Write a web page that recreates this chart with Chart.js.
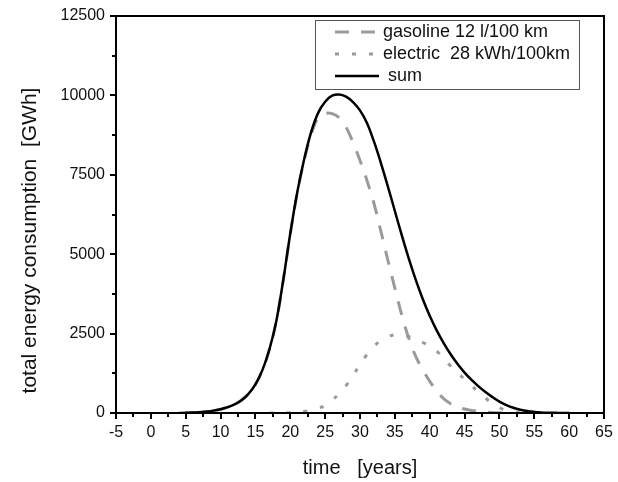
<!DOCTYPE html>
<html><head><meta charset="utf-8">
<script src="https://cdn.jsdelivr.net/npm/chart.js@4"></script>
<style>html,body{margin:0;padding:0;background:#fff}</style>
</head><body>
<canvas id="c" width="618" height="482"></canvas>
<script>
// time axis [years]
const sumYears = [4,5,6,7,8,9,10,11,12,13,14,15,16,17,18,19,20,21,22,23,24,25,26,27,28,29,30,31,32,33,34,35,36,37,38,39,40,41,42,43,44,45,46,47,48,49,50,51,52,53,54,55,56,57,58,59,60];
const sumValues = [0,5,12,25,45,75,120,180,270,400,600,900,1350,2000,2900,4200,5650,6950,8000,8850,9450,9800,9990,10030,9960,9790,9530,9130,8550,7870,7130,6360,5590,4860,4190,3590,3060,2600,2200,1850,1540,1270,1040,840,660,500,360,250,165,105,62,35,18,9,4,1,0];

const gasYears = [5,6,7,8,9,10,11,12,13,14,15,16,17,18,19,20,21,22,23,24,25,26,27,28,29,30,31,32,33,34,35,36,37,38,39,40,41,42,43,44,45,46,47,48,49,50,51];
const gasValues = [5,12,25,45,75,120,180,270,400,600,900,1350,2000,2898,4195,5640,6925,7950,8765,9300,9430,9425,9300,9000,8520,7950,7320,6600,5720,4810,3930,3080,2350,1780,1360,1000,690,450,290,190,125,80,50,30,15,5,0];

const elecYears = [17,18,19,20,21,22,23,24,25,26,27,28,29,30,31,32,33,34,35,36,37,38,39,40,41,42,43,44,45,46,47,48,49,50,51,52,53,54];
const elecValues = [0,2,5,10,25,50,85,150,240,400,610,860,1170,1540,1840,2100,2280,2400,2460,2460,2400,2320,2220,2110,1950,1720,1480,1270,1060,860,660,470,300,170,80,35,10,0];

const seriesNames = ['gasoline 12 l/100 km', 'electric  28 kWh/100km', ' sum'];
const xTitle = 'time   [years]';
const yTitle = 'total energy consumption  [GWh]';

const pts = (xs, ys) => xs.map((x, i) => ({x, y: ys[i]}));

const FONT = 'Arial, "Liberation Sans", sans-serif';

const frameAndMinor = {
  id: 'frameAndMinor',
  afterDraw(chart) {
    const {ctx, chartArea: a, scales: {x, y}} = chart;
    ctx.save();
    ctx.strokeStyle = '#000';
    ctx.lineWidth = 2;
    ctx.strokeRect(a.left, a.top, a.right - a.left, a.bottom - a.top);
    ctx.beginPath();
    for (let v = x.min + 2.5; v < x.max; v += 5) {
      const px = Math.round(x.getPixelForValue(v));
      ctx.moveTo(px, a.bottom); ctx.lineTo(px, a.bottom + 4);
    }
    for (let v = y.min + 1250; v < y.max; v += 2500) {
      const py = Math.round(y.getPixelForValue(v));
      ctx.moveTo(a.left, py); ctx.lineTo(a.left - 4, py);
    }
    ctx.stroke();
    // y axis title
    ctx.fillStyle = '#111';
    ctx.font = '21px ' + FONT;
    ctx.textAlign = 'center';
    ctx.textBaseline = 'middle';
    ctx.translate(30, (a.top + a.bottom) / 2 + 26);
    ctx.rotate(-Math.PI / 2);
    ctx.fillText(yTitle, 0, 0);
    ctx.restore();
  }
};

const boxLegend = {
  id: 'boxLegend',
  afterDraw(chart) {
    const {ctx, chartArea: a} = chart;
    const bx = a.left + 199, by = a.top + 4, bw = 264, bh = 69;
    ctx.save();
    ctx.fillStyle = '#fff';
    ctx.fillRect(bx, by, bw, bh);
    ctx.strokeStyle = '#555';
    ctx.lineWidth = 1;
    ctx.strokeRect(bx + 0.5, by + 0.5, bw, bh);
    const rows = [by + 12, by + 34, by + 56];
    ctx.font = '18px ' + FONT;
    ctx.textBaseline = 'middle';
    ctx.fillStyle = '#111';
    [0, 1, 2].forEach((di, r) => {
      const ds = chart.data.datasets[di];
      ctx.save();
      ctx.strokeStyle = ds.borderColor;
      ctx.lineWidth = ds.borderWidth;
      ctx.setLineDash(ds.borderDash || []);
      ctx.beginPath();
      ctx.moveTo(bx + 20, rows[r]);
      ctx.lineTo(bx + 64, rows[r]);
      ctx.stroke();
      ctx.restore();
      ctx.fillText(seriesNames[di], bx + 68, rows[r]);
    });
    ctx.restore();
  }
};

new Chart(document.getElementById('c'), {
  type: 'line',
  data: {
    datasets: [
      { label: seriesNames[0], data: pts(gasYears, gasValues), borderColor: '#9a9a9a', borderWidth: 3, borderDash: [14, 12], pointRadius: 0, tension: 0.4, order: 2 },
      { label: seriesNames[1], data: pts(elecYears, elecValues), borderColor: '#9a9a9a', borderWidth: 3, borderDash: [4, 13], pointRadius: 0, tension: 0.4, order: 3 },
      { label: seriesNames[2], data: pts(sumYears, sumValues), borderColor: '#000', borderWidth: 2.5, pointRadius: 0, tension: 0.4, order: 1 }
    ]
  },
  options: {
    responsive: false,
    animation: false,
    devicePixelRatio: 1,
    layout: { padding: { top: 16, right: 14, left: 0, bottom: 0 } },
    plugins: { legend: { display: false }, tooltip: { enabled: false } },
    scales: {
      x: {
        type: 'linear', min: -5, max: 65,
        afterFit: s => { s.height = 69; },
        ticks: { stepSize: 5, color: '#111', font: { family: FONT, size: 16 }, padding: 4, maxRotation: 0, autoSkip: false, callback: v => String(v) },
        grid: { drawOnChartArea: false, drawTicks: true, tickLength: 6, color: '#000', lineWidth: 2 },
        border: { display: true, color: '#000', width: 2 },
        title: { display: true, text: xTitle, color: '#111', font: { family: FONT, size: 20 }, padding: { top: 0, bottom: 2 } }
      },
      y: {
        type: 'linear', min: 0, max: 12500,
        afterFit: s => { s.width = 116; },
        ticks: { stepSize: 2500, color: '#111', font: { family: FONT, size: 16 }, padding: 5, callback: v => String(v) },
        grid: { drawOnChartArea: false, drawTicks: true, tickLength: 6, color: '#000', lineWidth: 2 },
        border: { display: true, color: '#000', width: 2 },
        title: { display: false }
      }
    }
  },
  plugins: [frameAndMinor, boxLegend]
});
</script>
</body></html>
